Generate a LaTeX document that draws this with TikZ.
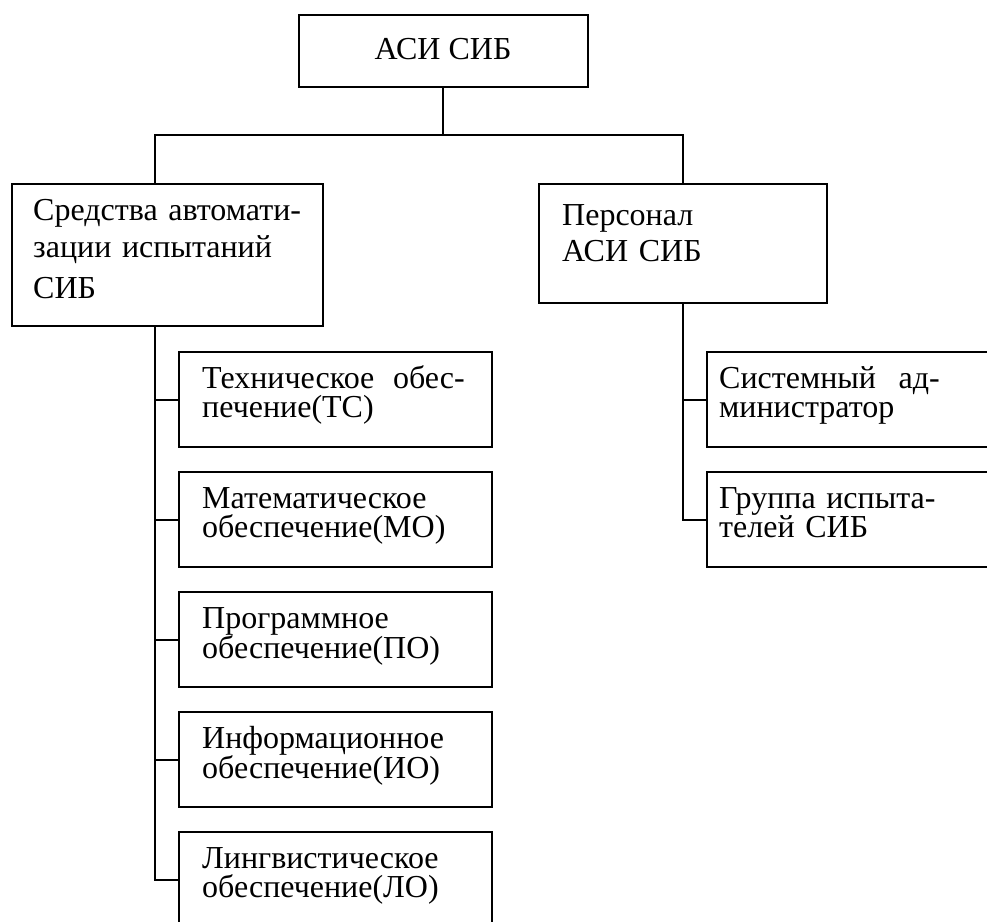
\documentclass[tikz,border=0pt]{standalone}
\usepackage{fontspec}
\setmainfont{Liberation Serif}
\usetikzlibrary{calc}
\begin{document}
\begin{tikzpicture}[x=1pt,y=-1pt,
  box/.style={draw, line width=2pt, inner sep=0pt},
  txt/.style={inner sep=0pt, anchor=base west, align=left, text width=300pt,
              font=\fontsize{32}{29}\selectfont},
  conn/.style={line width=2pt}]
\useasboundingbox (0,0) rectangle (987,921);
\clip (0,0) rectangle (987,921);
% boxes
\node[box, minimum width=289, minimum height=72] (top) at (443,51) {};
\node[box, minimum width=311, minimum height=142] (left) at (167.5,255) {};
\node[box, minimum width=288, minimum height=119] (right) at (683,243.5) {};
\node[box, minimum width=313, minimum height=95] (c1) at (335.5,399.5) {};
\node[box, minimum width=313, minimum height=95] (c2) at (335.5,519.5) {};
\node[box, minimum width=313, minimum height=95] (c3) at (335.5,639.5) {};
\node[box, minimum width=313, minimum height=95] (c4) at (335.5,759.5) {};
\node[box, minimum width=313, minimum height=95] (c5) at (335.5,879.5) {};
\node[box, minimum width=303, minimum height=95] (r1) at (858.5,399.5) {};
\node[box, minimum width=303, minimum height=95] (r2) at (858.5,519.5) {};
% texts
\node[inner sep=0pt, anchor=base, font=\fontsize{32}{29}\selectfont] (ttop) at (443,59) {АСИ СИБ};
\node[txt] (tl) at (33,220) {Средства автомати-\\[8pt]зации испытаний\\[12pt]СИБ};
\node[txt] (tr) at (562,225) {Персонал\\[7pt]АСИ СИБ};
\node[txt] (tc1) at ($(c1.north west)+(24,37)$) {Техническое\hspace{8pt} обес-\\печение(ТС)};
\node[txt] (tc2) at ($(c2.north west)+(24,37)$) {Математическое\\обеспечение(МО)};
\node[txt] (tc3) at ($(c3.north west)+(24,37)$) {Программное\\обеспечение(ПО)};
\node[txt] (tc4) at ($(c4.north west)+(24,37)$) {Информационное\\обеспечение(ИО)};
\node[txt] (tc5) at ($(c5.north west)+(24,37)$) {Лингвистическое\\обеспечение(ЛО)};
\node[txt] (tr1) at ($(r1.north west)+(13,37)$) {Системный\hspace{12pt} ад-\\министратор};
\node[txt] (tr2) at ($(r2.north west)+(13,37)$) {Группа испыта-\\телей СИБ};
% connectors
\coordinate (busL) at (155,135);
\coordinate (bus) at (top.south |- busL);
\draw[conn] (top.south) -- (bus);
\draw[conn] (busL |- left.north) -- (busL) -- (right.north |- busL) -- (right.north);
\draw[conn] (busL |- left.south) |- (c5.west);
\foreach \c in {c1,c2,c3,c4} \draw[conn] (busL |- \c.west) -- (\c.west);
\draw[conn] (right.south) |- (r2.west);
\draw[conn] (right.south |- r1.west) -- (r1.west);
\end{tikzpicture}
\end{document}
